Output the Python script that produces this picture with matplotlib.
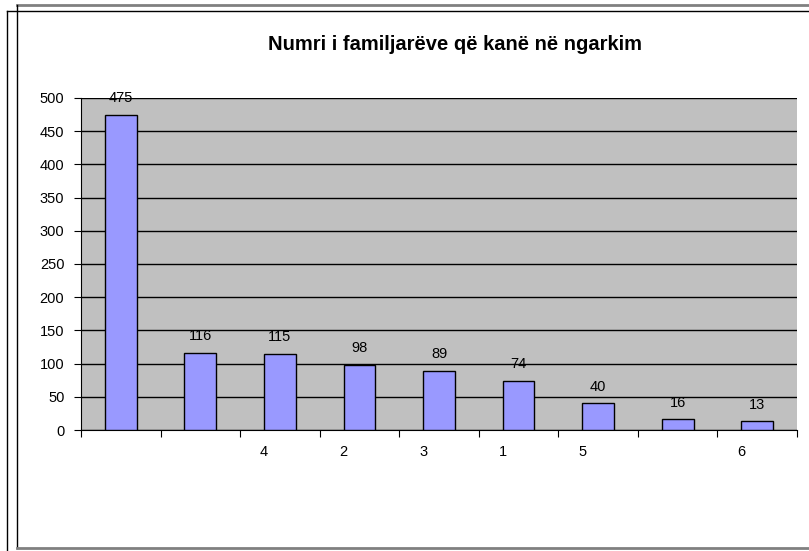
import matplotlib.pyplot as plt
from matplotlib.lines import Line2D

plt.rcParams['font.family'] = ['Liberation Sans', 'DejaVu Sans']

# te dhenat e grafikut
kategorite = ['', '', '4', '2', '3', '1', '5', '', '6']
vlerat = [475, 116, 115, 98, 89, 74, 40, 16, 13]
titulli = 'Numri i familjarëve që kanë në ngarkim'

fig = plt.figure(figsize=(8.09, 5.51), dpi=100)
W, H = 809.0, 551.0

def px(x, y):
    return x / W, 1 - y / H

# kornizat rreth grafikut
for (x0, y0, x1, y1, c, lw) in [
    (7, 11, 809, 11, 'black', 1.0),
    (7, 11, 7, 551, 'black', 1.0),
    (17, 5, 809, 5, '#808080', 2.0),
    (17, 5, 17, 548, 'black', 1.0),
    (17, 548, 809, 548, '#808080', 2.0),
]:
    a, b = px(x0, y0)
    c2, d = px(x1, y1)
    fig.add_artist(Line2D([a, c2], [b, d], color=c, lw=lw))

ax = fig.add_axes([81 / W, 1 - 430 / H, (797 - 81) / W, (430 - 98) / H])
ax.set_facecolor('#C0C0C0')

pos = list(range(len(vlerat)))
ax.bar(pos, vlerat, width=0.4, color='#9999FF', edgecolor='black', linewidth=1, zorder=3)

for x, v in zip(pos, vlerat):
    ax.annotate(str(v), (x, v), xytext=(0, 7), textcoords='offset points',
                ha='center', va='bottom', fontsize=10.5, zorder=4)

ax.set_xlim(-0.5, len(vlerat) - 0.5)
ax.set_ylim(0, 500)
ax.set_yticks(range(0, 501, 50))
ax.yaxis.grid(True, color='black', linewidth=1, zorder=1)
ax.set_axisbelow(True)

# vijat e ndarjes poshte, etiketat pak majtas qendres
ax.set_xticks([i - 0.5 for i in range(len(vlerat) + 1)])
ax.set_xticklabels([])
ax.set_xticks([i - 0.2 for i in pos], minor=True)
ax.set_xticklabels(kategorite, minor=True)
ax.tick_params(axis='x', which='major', direction='out', length=5, color='black')
ax.tick_params(axis='x', which='minor', length=0, pad=11, labelsize=10.5)
ax.tick_params(axis='y', direction='out', length=5, labelsize=10.5, pad=7)

for s in ['top', 'right']:
    ax.spines[s].set_visible(False)
ax.spines['left'].set_color('black')
ax.spines['bottom'].set_color('black')

tx, ty = px(455, 45)
fig.text(tx, ty, titulli, ha='center', va='center', fontsize=14.5, fontweight='bold')

fig.savefig('out.png', dpi=100)
